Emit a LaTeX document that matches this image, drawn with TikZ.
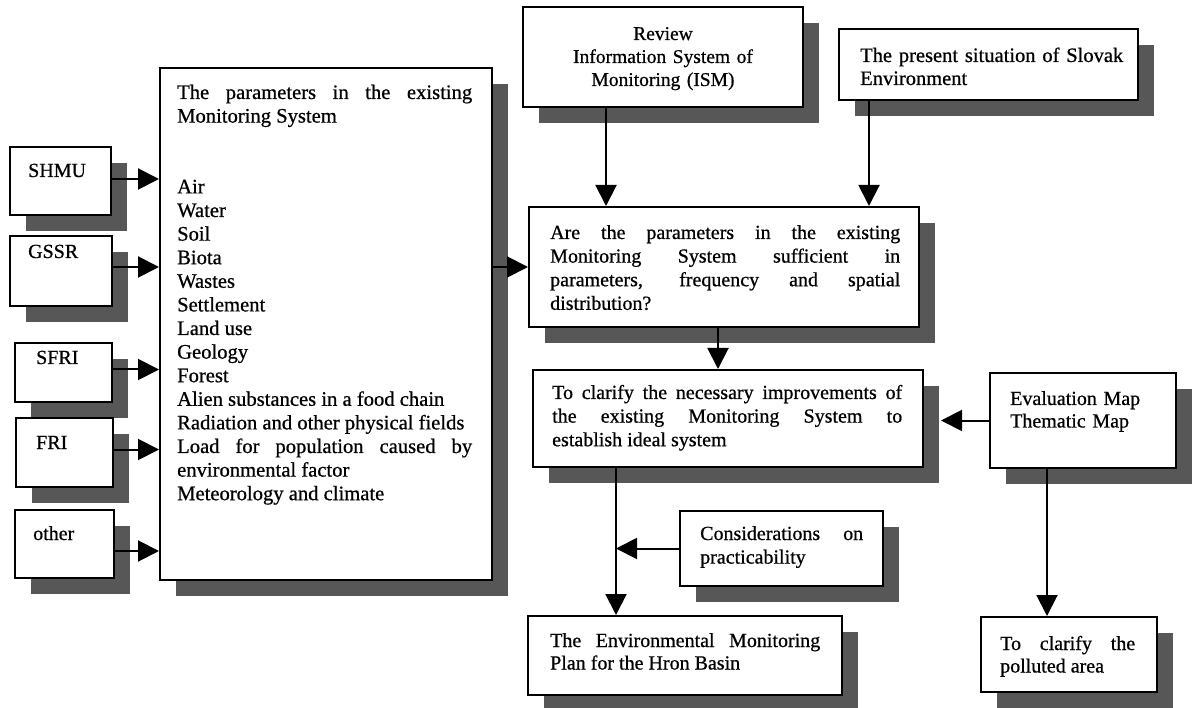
\documentclass[tikz,border=0pt]{standalone}
\usepackage{fontspec}
\setmainfont{Liberation Serif}[BoldFont=Liberation Serif, BoldFeatures={FakeBold=0.7}]
\usetikzlibrary{arrows.meta,shadows,fit,calc}
\hbadness=10000
\hfuzz=20pt
\begin{document}
\begin{tikzpicture}[x=1pt,y=-1pt,
  box/.style={draw, line width=2pt, fill=white, inner sep=0pt,
    drop shadow={shadow xshift=16pt, shadow yshift=-16pt, opacity=1, fill=black!66}},
  txt/.style={inner sep=0pt, anchor=base west, font=\bfseries\fontsize{20}{23.6}\selectfont, align=justify},
  arr/.style={line width=2pt, -{Triangle[length=21pt,width=21pt]}}]
\fill[white] (0,0) rectangle (1194,708);
\useasboundingbox (0,0) rectangle (1194,708);

% left source boxes
\node[box, fit={(10,147) (111,215)}] (shmu) {};
\node[txt] (shmut) at (28,177) {SHMU};
\node[box, fit={(10,236) (112,306)}] (gssr) {};
\node[txt] (gssrt) at (28,258) {GSSR};
\node[box, fit={(15,343) (112,402)}] (sfri) {};
\node[txt] (sfrit) at (36,364) {SFRI};
\node[box, fit={(16,418) (113,487)}] (fri) {};
\node[txt] (frit) at (36,449) {FRI};
\node[box, fit={(15,510) (114,578)}] (other) {};
\node[txt] (othert) at (33,540) {other};

% big parameter box
\node[box, fit={(160,68) (492,580)}] (big) {};
\node[txt, text width=295pt, font=\bfseries\fontsize{20.6}{23.6}\selectfont] (bigt) at (177,99) {The parameters in the existing\linebreak
Monitoring System\\[47.2pt]
Air\\ Water\\ Soil\\ Biota\\ Wastes\\ Settlement\\ Land use\\ Geology\\ Forest\\
Alien substances in a food chain\\ Radiation and other physical fields\\
Load for population caused by\linebreak environmental factor\\ Meteorology and climate};

% top boxes
\node[box, fit={(523,7) (803,107)}] (review) {};
\node[txt, anchor=base, align=center, text width=270pt, font=\bfseries\fontsize{19.5}{23}\selectfont] (reviewt) at (663,40) {Review\\ Information System of\\ Monitoring (ISM)};
\node[box, fit={(839,29) (1138,100)}] (present) {};
\node[txt, align=left, text width=275pt, font=\bfseries\fontsize{20.5}{23}\selectfont] (presentt) at (860,62) {The present situation of Slovak\\ Environment};

% question box
\node[box, fit={(529,207) (919,327)}] (question) {};
\node[txt, text width=350pt] (questiont) at (550,239) {Are the parameters in the existing\linebreak
Monitoring System sufficient in\linebreak parameters, frequency and spatial\linebreak distribution?};

% clarify box
\node[box, fit={(533,370) (923,467)}] (clarify) {};
\node[txt, text width=350pt] (clarifyt) at (552,399) {To clarify the necessary improvements of\linebreak
the existing Monitoring System to\linebreak establish ideal system};

% evaluation box
\node[box, fit={(990,373) (1176,468)}] (eval) {};
\node[txt, align=left, text width=160pt, font=\bfseries\fontsize{20}{22.5}\selectfont] (evalt) at (1010,405) {Evaluation Map\\ Thematic Map};

% considerations box
\node[box, fit={(680,511) (883,586)}] (consid) {};
\node[txt, text width=163pt] (considt) at (700,540) {Considerations on\linebreak practicability};

% plan box
\node[box, fit={(528,616) (842,695)}] (plan) {};
\node[txt, text width=270pt, font=\bfseries\fontsize{20}{22.5}\selectfont] (plant) at (550,647) {The Environmental Monitoring\linebreak Plan for the Hron Basin};

% polluted box
\node[box, fit={(981,617) (1157,692)}] (polluted) {};
\node[txt, text width=135pt, font=\bfseries\fontsize{20}{22.5}\selectfont] (pollutedt) at (1000,650) {To clarify the\linebreak polluted area};

% connectors
\draw[arr] ([yshift=2pt]shmu.east) -- ([yshift=2pt]shmu.east -| big.west);
\draw[arr] ([yshift=4pt]gssr.east) -- ([yshift=4pt]gssr.east -| big.west);
\draw[arr] ([yshift=3pt]sfri.east) -- ([yshift=3pt]sfri.east -| big.west);
\draw[arr] ([yshift=3pt]fri.east) -- ([yshift=3pt]fri.east -| big.west);
\draw[arr] ([yshift=-7pt]other.east) -- ([yshift=-7pt]other.east -| big.west);

\draw[arr] (question.west -| big.east) -- (question.west);
\draw[arr] ([xshift=78pt]question.north west |- review.south) -- ([xshift=78pt]question.north west);
\draw[arr] ([xshift=-51pt]question.north east |- present.south) -- ([xshift=-51pt]question.north east);
\draw[arr] ([xshift=-6pt]question.south) -- ([xshift=-6pt]question.south |- clarify.north);

\coordinate (cp) at ([xshift=84pt]clarify.south west);
\draw[arr] (cp) -- (cp |- plan.north);
\draw[arr] (consid.west) -- (consid.west -| cp);

\draw[arr] (eval.west) -- ([xshift=17pt]clarify.east |- eval.west);
\draw[arr] ([xshift=67pt]polluted.north west |- eval.south) -- ([xshift=67pt]polluted.north west);
\end{tikzpicture}
\end{document}
